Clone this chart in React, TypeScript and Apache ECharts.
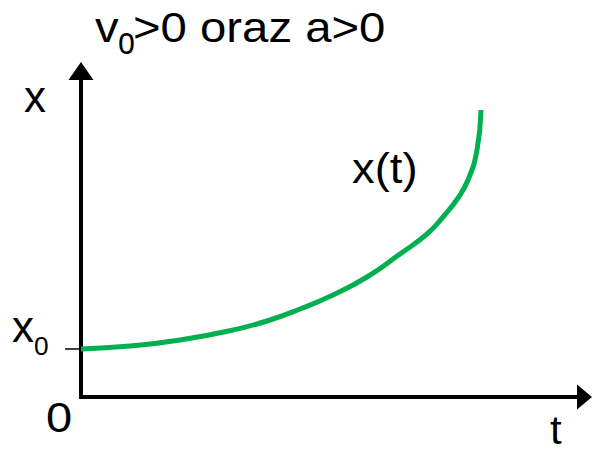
import React, { useEffect, useRef } from "react";
import * as echarts from "echarts";

// t (horizontal) and x (vertical) values of the curve x(t), in plot units
const tValues = [0, 49, 99, 152, 186, 219, 252, 286, 319, 346, 362, 377, 387, 396, 400];
const xValues = [48, 51, 57, 67, 76, 88, 102, 120, 143, 163, 180, 199, 217, 247, 287];
const tMax = 503.5;
const xMax = 326;

const FONT = "'Liberation Sans', Arial, sans-serif";

const txt = (
  text: string,
  x: number,
  baseline: number,
  size: number,
  sx = 1.1
) => ({
  type: "text",
  x,
  y: baseline - 0.3465 * size,
  scaleX: sx,
  style: {
    text,
    x: 0,
    y: 0,
    font: `${size}px ${FONT}`,
    fill: "#000",
    textAlign: "left",
    textVerticalAlign: "middle",
    verticalAlign: "middle",
  },
});

export default function App() {
  const ref = useRef<HTMLDivElement>(null);
  useEffect(() => {
    if (!ref.current) return;
    const chart = echarts.init(ref.current, undefined, { renderer: "svg" });
    const data = tValues.map((t, i) => [t, xValues[i]]);
    chart.setOption({
      animation: false,
      backgroundColor: "#fff",
      grid: { left: 81, right: 7.5, top: 71, bottom: 55, containLabel: false },
      xAxis: {
        type: "value",
        min: 0,
        max: tMax,
        axisLine: {
          show: true,
          symbol: ["none", "triangle"],
          symbolSize: [25, 15],
          lineStyle: { color: "#000", width: 4, cap: "square" },
        },
        axisTick: { show: false },
        axisLabel: { show: false },
        splitLine: { show: false },
      },
      yAxis: {
        type: "value",
        min: 0,
        max: xMax,
        axisLine: {
          show: true,
          symbol: ["none", "triangle"],
          symbolSize: [25, 18],
          lineStyle: { color: "#000", width: 4, cap: "square" },
        },
        axisTick: {
          show: true,
          customValues: [xValues[0]],
          length: 16,
          lineStyle: { color: "#000", width: 1.5 },
        },
        axisLabel: { show: false },
        splitLine: { show: false },
      },
      graphic: [
        txt("v", 95, 42, 43),
        txt("o", 118, 54, 38, 0.8),
        txt(">0 oraz a>0", 133, 42, 43),
        txt("x", 24, 112, 44, 1),
        txt("x", 12, 342, 44, 1),
        txt("0", 34, 355, 25, 1.05),
        txt("0", 46, 432, 42, 1.12),
        txt("t", 550, 444, 40, 1.05),
        txt("x(t)", 352, 183, 42, 1.08),
      ],
      series: [
        {
          type: "line",
          data,
          smooth: 0.5,
          showSymbol: false,
          lineStyle: { color: "#00b050", width: 5 },
        },
      ],
    });
    return () => chart.dispose();
  }, []);
  return (
    <div
      ref={ref}
      style={{ position: "fixed", left: 0, top: 0, width: 592, height: 452 }}
    />
  );
}
